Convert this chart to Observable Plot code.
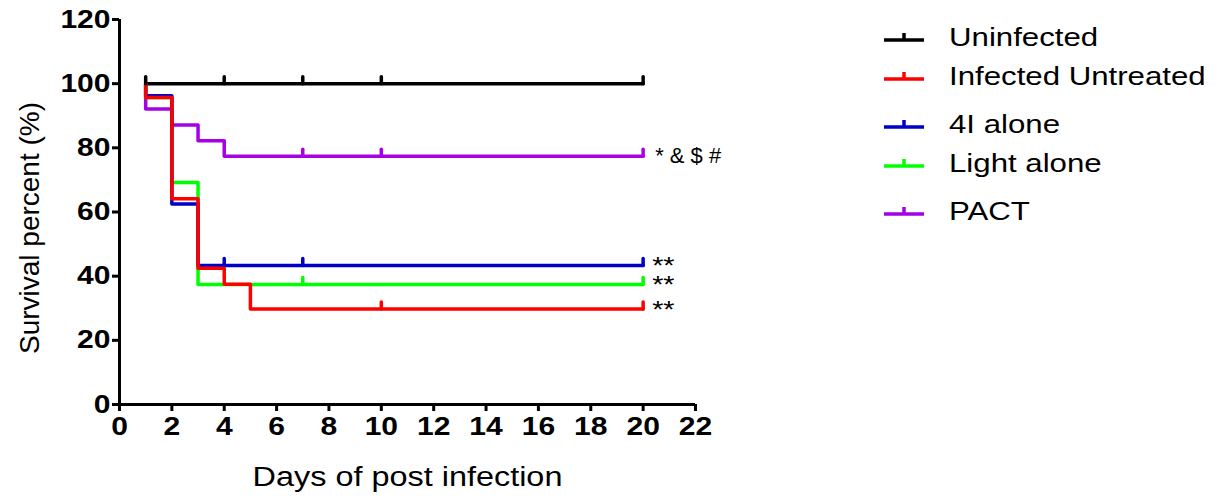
<!DOCTYPE html>
<html><head><meta charset="utf-8">
<script src="https://cdn.jsdelivr.net/npm/d3@7"></script>
<script src="https://cdn.jsdelivr.net/npm/@observablehq/plot@0.6"></script>
<style>
body{margin:0;background:#fff;font-family:"Liberation Sans",Arial,sans-serif;}
#wrap{position:relative;width:1221px;height:497px;}
#legend{position:absolute;left:0;top:0;}
.row{position:absolute;left:883px;display:flex;align-items:center;font-size:26px;color:#000;white-space:nowrap;}
.row svg{margin-right:24px;}
.row span{display:inline-block;transform:scaleX(1.2);transform-origin:left center;}
</style></head>
<body><div id="wrap"><div id="chart"></div><div id="legend"></div></div>
<script>
const groups = ["Uninfected","Infected Untreated","4I alone","Light alone","PACT"];
const colors = ["#000000","#ff0000","#0000c8","#00ff00","#a600e6"];
const drawOrder = ["Uninfected","PACT","Light alone","4I alone","Infected Untreated"];

const uninfectedDays = [1, 20];
const uninfectedSurv = [100, 100];
const untreatedDays = [1, 1, 2, 3, 4, 5, 20];
const untreatedSurv = [100, 95.7, 64.1, 42.5, 37.5, 29.8, 29.8];
const alone4IDays = [1, 1, 2, 3, 20];
const alone4ISurv = [100, 96.2, 62.5, 43.3, 43.3];
const lightDays = [1, 1, 2, 3, 20];
const lightSurv = [100, 95.7, 69.2, 37.4, 37.4];
const pactDays = [1, 1, 2, 3, 4, 20];
const pactSurv = [100, 92.1, 87.1, 82.2, 77.4, 77.4];

const censorUninfectedDays = [1, 4, 7, 10, 20];
const censorUntreatedDays = [10, 20];
const censor4IDays = [4, 7, 20];
const censorLightDays = [7, 20];
const censorPactDays = [7, 10, 20];

const annotLabels = ["* & $ #", "**", "**", "**"];
const annotGroups = ["PACT", "4I alone", "Light alone", "Infected Untreated"];

const xTicks = d3.range(0, 23, 2);
const yTicks = d3.range(0, 121, 20);

const series = {
  "Uninfected": [uninfectedDays, uninfectedSurv, censorUninfectedDays],
  "Infected Untreated": [untreatedDays, untreatedSurv, censorUntreatedDays],
  "4I alone": [alone4IDays, alone4ISurv, censor4IDays],
  "Light alone": [lightDays, lightSurv, censorLightDays],
  "PACT": [pactDays, pactSurv, censorPactDays]
};
function survAt(g, d){ const [ds, ss] = series[g]; let v = ss[0]; for (let i=0;i<ds.length;i++) if (ds[i] <= d) v = ss[i]; return v; }

const lineData = [], censorData = [];
for (const g of drawOrder) {
  const [ds, ss, cs] = series[g];
  ds.forEach((d,i)=>lineData.push({group:g, day:d, surv:ss[i]}));
  cs.forEach(d=>censorData.push({group:g, day:d, surv:survAt(g,d)}));
}
const annotData = annotLabels.map((t,i)=>({text:t, day:20, surv:survAt(annotGroups[i],20), big: t === "**"}));

const color = {domain: groups, range: colors};
const spike = {draw(ctx, l){ ctx.moveTo(0,0); ctx.lineTo(0,-l); }};

const plot = Plot.plot({
  width: 1221, height: 497,
  marginLeft: 119, marginRight: 526, marginTop: 19, marginBottom: 93,
  x: {domain: [0, 22]},
  y: {domain: [0, 120]},
  color,
  style: {fontFamily: '"Liberation Sans", Arial, sans-serif', background: "#fff"},
  marks: [
    Plot.axisX({ticks: xTicks, tickSize: 7, strokeWidth: 3, tickPadding: 6, fontSize: 25, fontWeight: "bold", label: null, color: "#000"}),
    Plot.axisY({ticks: yTicks, tickSize: 7, strokeWidth: 3, tickPadding: 2, fontSize: 25, fontWeight: "bold", label: null, color: "#000"}),
    Plot.ruleX([0], {stroke: "#000", strokeWidth: 3}),
    Plot.ruleY([0], {stroke: "#000", strokeWidth: 3}),
    ...drawOrder.map(g => Plot.line(lineData.filter(d=>d.group===g), {x:"day", y:"surv", stroke:"group", strokeWidth:3.5, curve:"step-after"})),
    ...drawOrder.map(g => Plot.vector(censorData.filter(d=>d.group===g), {x:"day", y:"surv", stroke:"group", strokeWidth:3.5, length:7, rotate:0, anchor:"start", shape: spike})),
    Plot.text(annotData.filter(d=>!d.big), {x:"day", y:"surv", text:"text", textAnchor:"start", dx: 12, dy: 0, fontSize: 22, fill:"#000"}),
    Plot.text(annotData.filter(d=>d.big), {x:"day", y:"surv", text:"text", textAnchor:"start", dx: 9, dy: 1, fontSize: 24, fill:"#000"}),
    Plot.text(["Days of post infection"], {frameAnchor:"bottom", dy: 81, fontSize: 27, fill:"#000"}),
    Plot.text(["Survival percent (%)"], {frameAnchor:"left", textAnchor:"middle", rotate:-90, dx: -89, dy: 16, fontSize: 28, fill:"#000"})
  ]
});
document.getElementById("chart").appendChild(plot);

// horizontally widen glyphs like the reference (not the rotated title or the annotations)
plot.querySelectorAll("text").forEach(el => {
  const t = el.textContent;
  if (t === "Survival percent (%)" || t === "* & $ #") return;
  const w = el.getComputedTextLength();
  el.setAttribute("textLength", (w * 1.2).toFixed(1));
  el.setAttribute("lengthAdjust", "spacingAndGlyphs");
});

const rowTops = [37, 76, 124, 163, 211];
const legend = document.getElementById("legend");
groups.forEach((g,i)=>{
  const row = document.createElement("div");
  row.className = "row";
  row.style.top = (rowTops[i] - 16) + "px";
  row.style.height = "32px";
  row.innerHTML = `<svg width="42" height="16" viewBox="0 0 42 16"><path d="M1,11H41M21,11V4" stroke="${colors[i]}" stroke-width="3.5" fill="none"/></svg><span>${g}</span>`;
  legend.appendChild(row);
});
</script></body></html>
